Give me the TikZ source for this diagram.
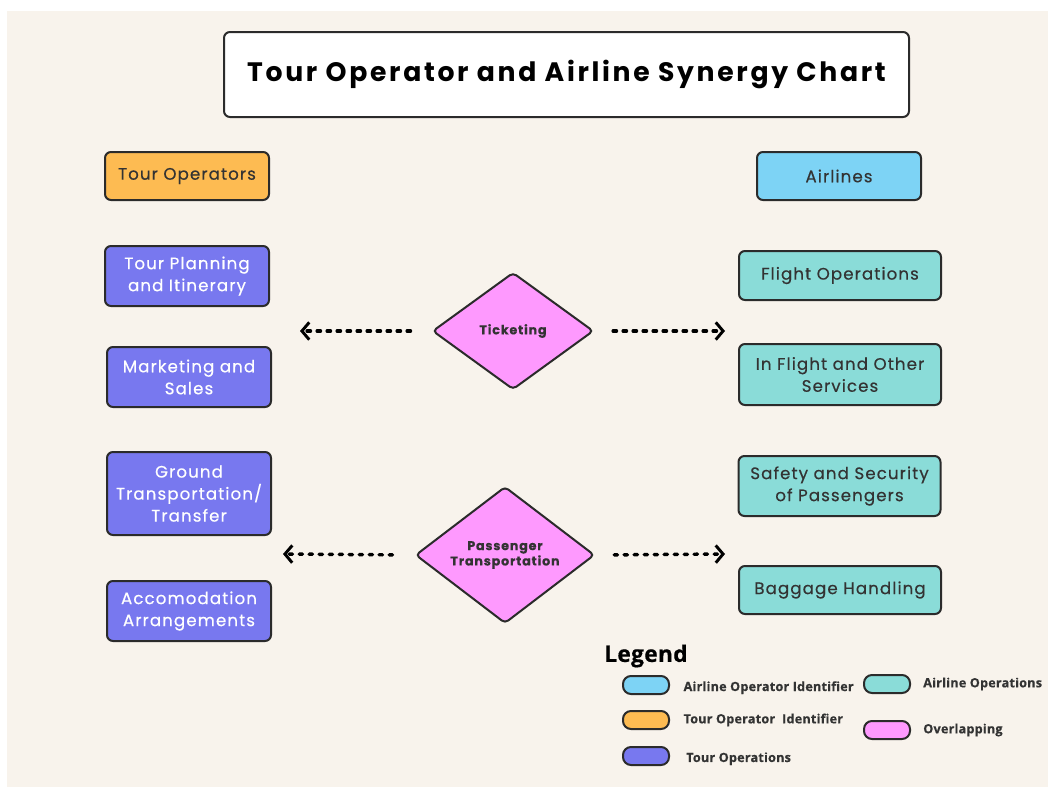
\documentclass[tikz,border=0pt]{standalone}
\usepackage{fontspec}
\setmainfont{Poppins}[LetterSpace=6.5,FakeBold=0.4]
\newfontfamily\titlefont{Poppins}[LetterSpace=10]
\newfontfamily\legendfont{Open Sans}[LetterSpace=1.5,FakeBold=0.5]
\usetikzlibrary{positioning}
\usetikzlibrary{shapes.geometric}
\usetikzlibrary{arrows.meta}

\definecolor{cream}{HTML}{F8F3EC}
\definecolor{edge}{HTML}{2B2B2B}
\definecolor{tourorange}{HTML}{FDBB52}
\definecolor{airblue}{HTML}{7DD3F5}
\definecolor{tourblue}{HTML}{7878EF}
\definecolor{airteal}{HTML}{8ADCD8}
\definecolor{overpink}{HTML}{FE99FE}
\definecolor{textdark}{HTML}{333333}

\begin{document}
\begin{tikzpicture}[x=0.75pt,y=-0.75pt,
        box/.style={draw=edge,line width=1.5pt,rounded corners=4.5pt,align=center,
            font=\fontsize{12.5}{16.5}\selectfont,text=textdark,inner sep=2pt},
        leftbox/.style={box,fill=tourblue,text=white,minimum width=123pt},
        rightbox/.style={box,fill=airteal,minimum width=151.5pt},
        overlap/.style={diamond,draw=edge,line width=1.5pt,rounded corners=3pt,fill=overpink,
            align=center,inner sep=0pt,text=textdark,font=\fontsize{9.5}{11.5}\selectfont\bfseries},
        dotarrow/.style={line width=2.6pt,line cap=round,dash pattern=on 2.5pt off 5pt,
            -{Straight Barb[length=5.5pt,width=13pt,line width=2.2pt]}},
        pill/.style={draw=edge,line width=1.5pt,rounded corners=6pt,minimum width=34.5pt,minimum height=13.5pt},
        pilltext/.style={inner sep=0pt,font=\legendfont\fontsize{9.5}{11}\selectfont\bfseries,text=textdark}]
        \useasboundingbox (0,0) rectangle (1048,789);
        \fill[white] (0,0) rectangle (1048,789);
        \fill[cream] (7,11) rectangle (1048,787);

        % title
        \node[box,fill=white,minimum width=513.75pt,minimum height=63.75pt,text=black,
            font=\titlefont\fontsize{20}{23}\selectfont\bfseries] (title) at (566.5,74.5) {Tour Operator and Airline Synergy Chart};

        % identifiers
        \node[box,fill=tourorange,minimum width=123pt,minimum height=36pt] (tourop) at (187,176) {Tour Operators};
        \node[box,fill=airblue,minimum width=123pt,minimum height=36pt] (airline) at (839,176) {Airlines};

        % tour operations
        \node[leftbox,minimum height=45pt] (plan) at (187,276) {Tour Planning\\and Itinerary};
        \node[leftbox,minimum height=45pt] (market) at (189,377) {Marketing and\\Sales};
        \node[leftbox,minimum height=62.25pt] (ground) at (189,493.5) {Ground\\Transportation/\\Transfer};
        \node[leftbox,minimum height=45pt] (accom) at (189,611) {Accomodation\\Arrangements};

        % airline operations
        \node[rightbox,minimum height=36.75pt] (flight) at (840,275.5) {Flight Operations};
        \node[rightbox,minimum height=45.75pt] (inflight) at (840,374.5) {In Flight and Other\\Services};
        \node[rightbox,minimum height=45pt] (safety) at (839.5,486) {Safety and Security\\of Passengers};
        \node[rightbox,minimum height=36pt] (baggage) at (840,590) {Baggage Handling};

        % overlapping
        \node[overlap,minimum width=120.75pt,minimum height=87.75pt] (tick) at (513,331) {Ticketing};
        \node[overlap,minimum width=134.25pt,minimum height=100.5pt] (pass) at (505,555) {Passenger\\Transportation};

        \coordinate (tickL) at (300,331);
        \coordinate (tickR) at (725,331);
        \coordinate (passL) at (283,554);
        \coordinate (passR) at (725,554);
        \draw[dotarrow,shorten <=15.75pt] (tick.west) -- (tickL);
        \draw[dotarrow,shorten <=14pt] (tick.east) -- (tickR);
        \draw[dotarrow,shorten <=16.5pt] (pass.west) -- (passL);
        \draw[dotarrow,shorten <=14pt] (pass.east) -- (passR);

        % legend
        \node[anchor=west,inner sep=0pt,font=\legendfont\fontsize{17}{19}\selectfont\bfseries] (legend) at (604,656) {Legend};
        \node[pill,fill=airblue] (keyair) at (646,685) {};
        \node[pill,fill=tourorange] (keytour) at (646,720) {};
        \node[pill,fill=tourblue] (keyops) at (646,756) {};
        \node[pill,fill=airteal] (keyairops) at (887,684) {};
        \node[pill,fill=overpink] (keyover) at (887,730) {};
        \node[pilltext,right=10pt of keyair,yshift=-2pt] {Airline Operator Identifier};
        \node[pilltext,right=10pt of keytour] {Tour Operator\ \ Identifier};
        \node[pilltext,right=12pt of keyops,yshift=-2pt] {Tour Operations};
        \node[pilltext,right=9pt of keyairops] {Airline Operations};
        \node[pilltext,right=9pt of keyover] {Overlapping};
    \end{tikzpicture}
\end{document}
